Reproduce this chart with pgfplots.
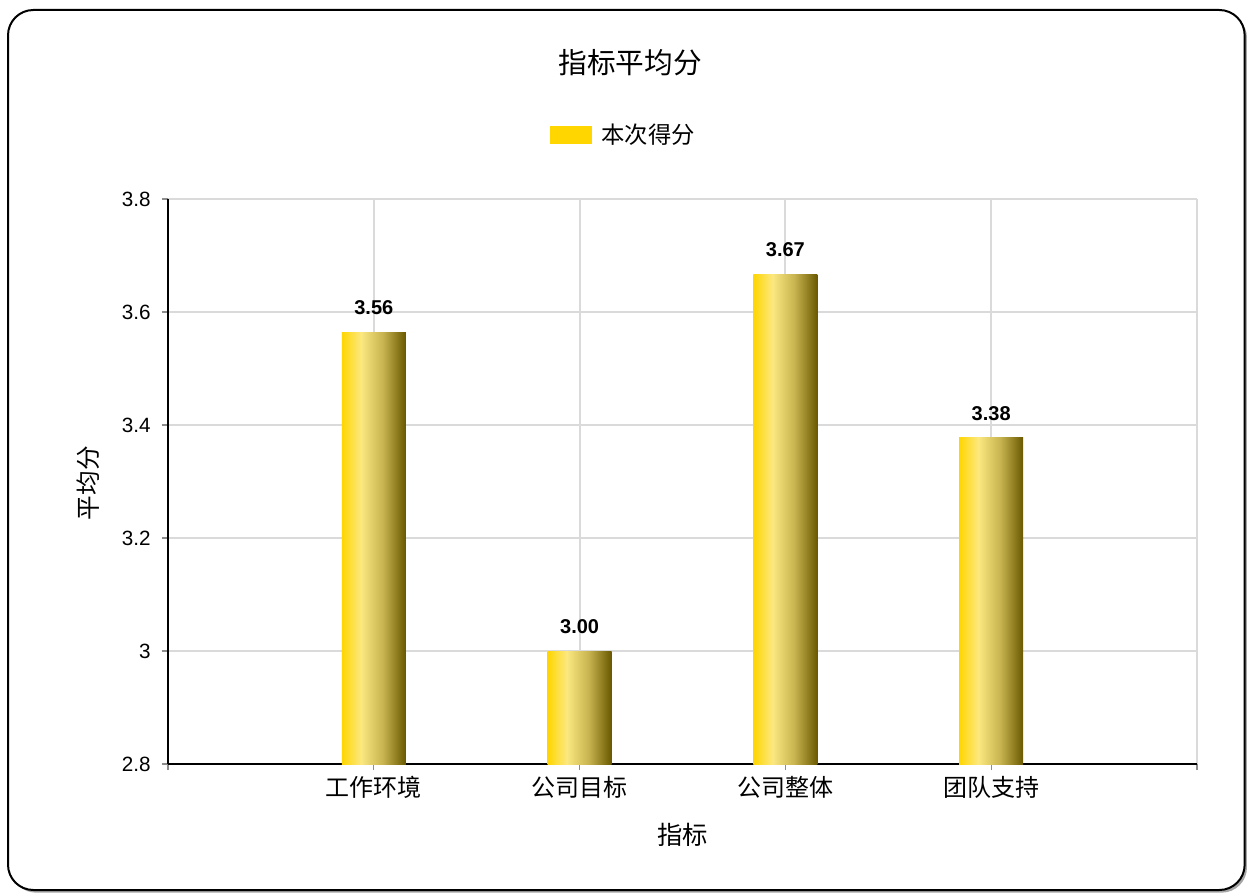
\documentclass[border=0pt]{standalone}
\usepackage{pgfplots}
\pgfplotsset{compat=1.18}
\usepackage{fontspec}
\setmainfont{Liberation Sans}
\newfontfamily\cjk{Noto Sans CJK SC}
\definecolor{barA}{RGB}{255,214,0}
\definecolor{barB}{RGB}{252,232,128}
\definecolor{barC}{RGB}{200,180,80}
\definecolor{barD}{RGB}{105,88,0}
\definecolor{gridgray}{RGB}{218,218,218}
\pgfdeclarehorizontalshading{barshade}{100bp}{color(0bp)=(barA); color(25bp)=(barA); color(40bp)=(barB); color(57bp)=(barC); color(75bp)=(barD); color(100bp)=(barD)}
\begin{document}
\begin{tikzpicture}
\path[use as bounding box] (0,0) rectangle (935.25pt,670.5pt);
\fill[black!35, rounded corners=19pt] (8pt,1pt) rectangle (935.25pt,661pt);
\draw[line width=1.5pt, fill=white, rounded corners=19pt] (6pt,3pt) rectangle (933.5pt,663pt);
\node[font=\cjk\fontsize{21.5}{24}\selectfont] at (472.5pt,623.25pt) {指标平均分};
\begin{axis}[
  at={(126pt,97.5pt)}, anchor=origin,
  scale only axis, width=771.75pt, height=423.75pt,
  xmin=0, xmax=5, ymin=2.8, ymax=3.8,
  xtick={0,1,2,3,4,5},
  xticklabels={{},工作环境,公司目标,公司整体,团队支持,{}},
  ytick={2.8,3,3.2,3.4,3.6,3.8},
  /pgf/number format/assume math mode=true,
  axis lines=left,
  x axis line style={-, black, line width=2.2pt},
  y axis line style={-, black, line width=1.5pt},
  tick align=outside,
  major tick length=4.5pt,
  tick style={black!45, line width=0.8pt},
  grid=major,
  major grid style={gridgray, line width=1.6pt},
  xticklabel style={font=\cjk\fontsize{18}{20}\selectfont, yshift=-1pt},
  yticklabel style={font=\fontsize{15.5}{18}\selectfont, xshift=-5pt},
  xlabel={指标},
  ylabel={平均分},
  xlabel style={font=\cjk\fontsize{19}{22}\selectfont, at={(axis description cs:0.5,-0.1257)}, anchor=center},
  ylabel style={font=\cjk\fontsize{18.5}{22}\selectfont, at={(axis description cs:-0.0777,0.497)}, anchor=center},
  nodes near coords={\pgfmathprintnumber[fixed,zerofill,precision=2]{\pgfplotspointmeta}},
  every node near coord/.append style={font=\bfseries\fontsize{15}{18}\selectfont, anchor=south, inner sep=0pt, yshift=12.75pt, black},
  legend style={draw=none, fill=none, at={(axis description cs:0.443,1.113)}, anchor=center, font=\cjk\fontsize{17.5}{20}\selectfont},
  legend image code/.code={\pgfsetfillcolor{barA}\pgfpathrectanglecorners{\pgfpoint{0pt}{-6.75pt}}{\pgfpoint{31.5pt}{6.75pt}}\pgfusepath{fill}},
  clip=true,
]
\addplot[ybar, bar width=48pt, bar shift=0pt, draw=none, shading=barshade] coordinates {(1,3.564)};
\addlegendentry{\hspace{5pt}本次得分}
\addplot[ybar, bar width=48pt, bar shift=0pt, draw=none, shading=barshade, forget plot] coordinates {(2,3.0)};
\addplot[ybar, bar width=48pt, bar shift=0pt, draw=none, shading=barshade, forget plot] coordinates {(3,3.667)};
\addplot[ybar, bar width=48pt, bar shift=0pt, draw=none, shading=barshade, forget plot] coordinates {(4,3.377)};
\end{axis}
\end{tikzpicture}
\end{document}
